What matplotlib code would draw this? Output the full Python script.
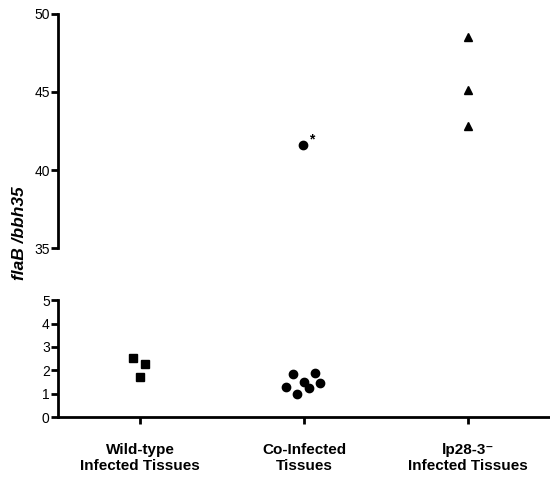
import matplotlib
matplotlib.use("Agg")
import matplotlib.pyplot as plt

plt.rcParams["font.family"] = ["Liberation Sans", "DejaVu Sans"]

categories = ["Wild-type\nInfected Tissues", "Co-Infected\nTissues", "lp28-3\u207b\nInfected Tissues"]

# low values (lower panel)
wt_x = [-0.04, 0.03, 0.0]
wt_y = [2.54, 2.27, 1.73]
co_x = [-0.07, 0.065, 0.0, -0.11, 0.03, 0.10, -0.04]
co_y = [1.86, 1.88, 1.50, 1.27, 1.25, 1.44, 0.98]

# high values (upper panel)
co_out_x = [-0.005]
co_out_y = [41.6]
lp_x = [0.0, 0.0, 0.0]
lp_y = [48.5, 45.1, 42.85]

fig = plt.figure(figsize=(5.5, 4.79), dpi=100)
ax_top = fig.add_axes([0.1055, 0.4816, 0.8945, 0.4898])
ax_bot = fig.add_axes([0.1055, 0.1294, 0.8945, 0.2437])

for ax in (ax_top, ax_bot):
    ax.set_xlim(-0.5, 2.5)
    ax.spines["top"].set_visible(False)
    ax.spines["right"].set_visible(False)
    ax.spines["left"].set_linewidth(2)
    ax.spines["bottom"].set_linewidth(2)
    ax.tick_params(axis="y", length=5, width=2, labelsize=10, pad=1)
    ax.patch.set_visible(False)

ax_top.spines["bottom"].set_visible(False)
ax_top.set_xticks([])
ax_top.set_ylim(35, 50)
ax_top.set_yticks([35, 40, 45, 50])

ax_bot.set_ylim(0, 5)
ax_bot.set_yticks([0, 1, 2, 3, 4, 5])
ax_bot.set_xticks([0, 1, 2])
ax_bot.set_xticklabels(categories, fontweight="bold", fontsize=11, linespacing=1.1)
ax_bot.tick_params(axis="x", length=5, width=2, pad=14)

ax_bot.plot([0 + x for x in wt_x], wt_y, "s", color="black", ms=6, clip_on=False)
ax_bot.plot([1 + x for x in co_x], co_y, "o", color="black", ms=6, clip_on=False)
ax_top.plot([1 + x for x in co_out_x], co_out_y, "o", color="black", ms=6, clip_on=False)
ax_top.plot([2 + x for x in lp_x], lp_y, "^", color="black", ms=6, clip_on=False)
ax_top.annotate("*", (1 + co_out_x[0], co_out_y[0]), xytext=(4, 1),
                textcoords="offset points", fontsize=10, fontweight="bold")

fig.text(0.035, 0.513, "flaB /bbh35", rotation=90, ha="center", va="center",
         fontsize=12.5, fontweight="bold", fontstyle="italic")

fig.savefig("out.png", dpi=100)
